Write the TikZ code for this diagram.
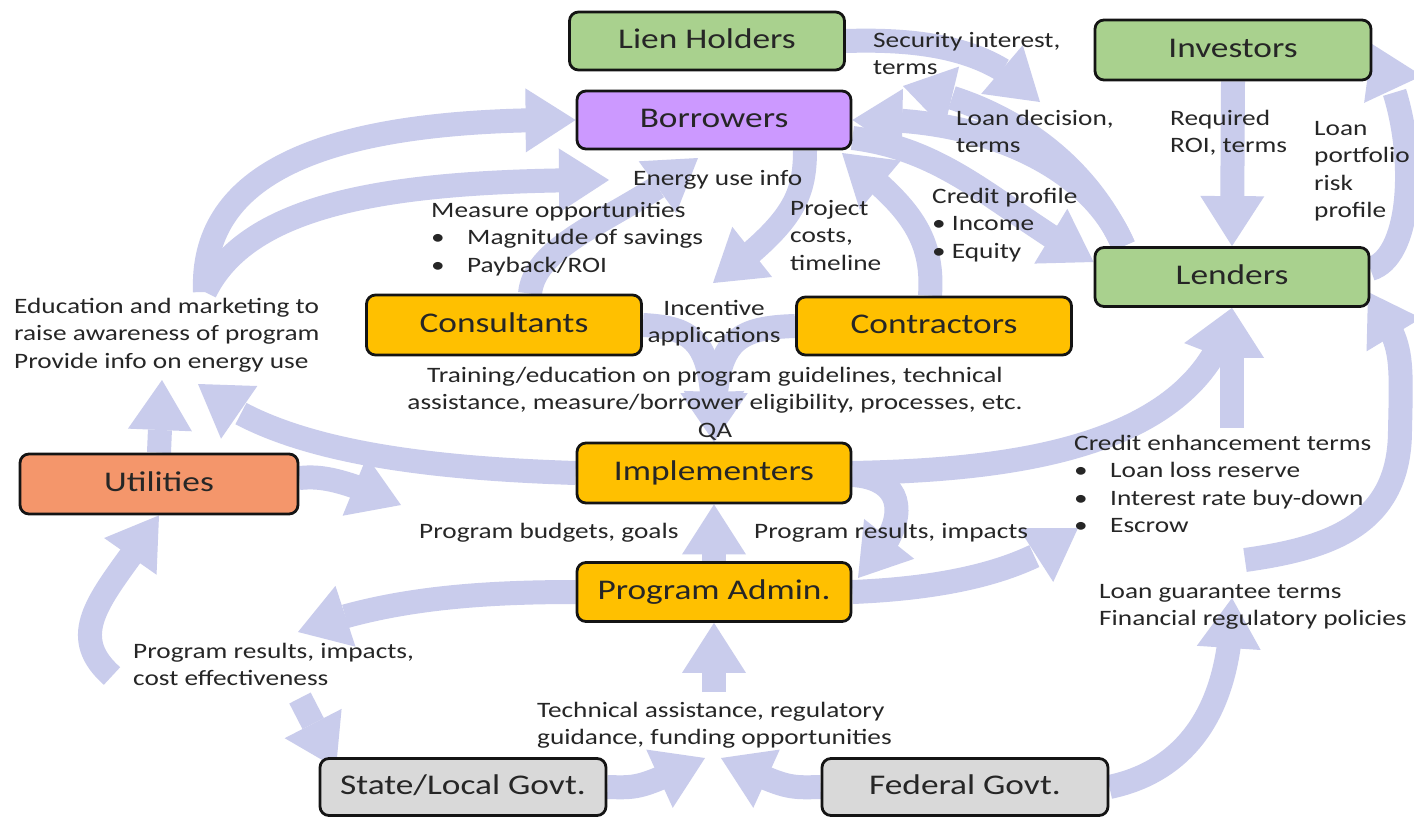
\documentclass[tikz,border=0pt]{standalone}
\usepackage{fontspec}
\setmainfont{Carlito}[FakeStretch=1.24]
\usetikzlibrary{arrows.meta,bending,calc}

\definecolor{lav}{RGB}{201,204,236}
\definecolor{leaf}{RGB}{169,209,142}
\definecolor{lilac}{RGB}{204,153,255}
\definecolor{amber}{RGB}{255,192,0}
\definecolor{coral}{RGB}{244,150,107}
\definecolor{silver}{RGB}{217,217,217}
\definecolor{ink}{RGB}{38,38,38}
\definecolor{rim}{RGB}{20,20,20}

\newcommand{\labfont}{\fontsize{22}{27.5}\selectfont}
\newcommand{\boxlabfont}{\fontsize{28.5}{34}\selectfont}
\newcommand{\topstrut}{\rule{0pt}{17pt}}
\newcommand{\bul}{\makebox[36pt][l]{\textbullet}}

\pgfdeclarelayer{flows}
\pgfsetlayers{flows,main}

\begin{document}
\begin{tikzpicture}[x=1pt,y=-1pt,
  box/.style={draw=rim, line width=2.8pt, rounded corners=9pt, inner sep=0pt,
              text=ink, font=\boxlabfont, text height=20pt, text depth=6pt},
  flow/.style={draw=lav, line width=24pt,
               -{Triangle[length=50pt,width=64pt,line width=0pt]}},
  lbl/.style={font=\labfont, text=ink, inner sep=0pt, align=left, anchor=north west},
  clbl/.style={font=\labfont, text=ink, inner sep=0pt, align=center, anchor=north},
]
\useasboundingbox (0,0) rectangle (1414,817);

% ---------------- actors ----------------
\node[box, fill=leaf,   minimum width=275pt, minimum height=58pt] (lien)  at (707,41)  {Lien Holders};
\node[box, fill=lilac,  minimum width=274pt, minimum height=58pt] (borr)  at (714,120) {Borrowers};
\node[box, fill=leaf,   minimum width=276pt, minimum height=60pt] (inv)   at (1233,50) {Investors};
\node[box, fill=leaf,   minimum width=274pt, minimum height=59pt] (lend)  at (1232,277) {Lenders};
\node[box, fill=amber,  minimum width=275pt, minimum height=60pt] (cons)  at (504,325) {Consultants};
\node[box, fill=amber,  minimum width=275pt, minimum height=58pt] (contr) at (934,326) {Contractors};
\node[box, fill=coral,  minimum width=278pt, minimum height=60pt] (util)  at (159,484) {Utilities};
\node[box, fill=amber,  minimum width=274pt, minimum height=60pt] (impl)  at (714,473) {Implementers};
\node[box, fill=amber,  minimum width=274pt, minimum height=59pt] (padm)  at (714,592) {Program Admin.};
\node[box, fill=silver, minimum width=286pt, minimum height=57pt] (state) at (463,787) {State/Local Govt.};
\node[box, fill=silver, minimum width=286pt, minimum height=57pt] (fed)   at (965,787) {Federal Govt.};

% ---------------- flow labels ----------------
\node[lbl] (tSec) at (873,30) {\topstrut Security interest,\\terms};
\node[lbl] (tDecision) at (956,108) {\topstrut Loan decision,\\terms};
\node[lbl] (tRoi) at (1170,108) {\topstrut Required\\ROI, terms};
\node[lbl] (tRisk) at (1314,118) {\topstrut Loan\\portfolio\\risk\\profile};
\node[lbl] (tEnergy) at (633,168) {\topstrut Energy use info};
\node[lbl] (tMeasure) at (431,200) {\topstrut Measure opportunities\\\bul Magnitude of savings\\\bul Payback/ROI};
\node[lbl] (tProject) at (790,198) {\topstrut Project\\costs,\\timeline};
\node[lbl] (tCredit) at (932,186) {\topstrut Credit profile\\\textbullet{} Income\\\textbullet{} Equity};
\node[lbl] (tEdu) at (14,296) {\topstrut Education and marketing to\\raise awareness of program\\Provide info on energy use};
\node[clbl] (tIncent) at (714,298) {\topstrut Incentive\\applications};
\node[clbl] (tTrain) at (715,365) {\topstrut Training/education on program guidelines, technical\\assistance, measure/borrower eligibility, processes, etc.\\QA};
\node[lbl] (tEnh) at (1074,433) {\topstrut Credit enhancement terms\\\bul Loan loss reserve\\\bul Interest rate buy-down\\\bul Escrow};
\node[lbl] (tBudget) at (419,521) {\topstrut Program budgets, goals};
\node[lbl] (tResR) at (754,521) {\topstrut Program results, impacts};
\node[lbl] (tGuar) at (1099,581) {\topstrut Loan guarantee terms\\Financial regulatory policies};
\node[lbl] (tResL) at (133,641) {\topstrut Program results, impacts,\\cost effectiveness};
\node[lbl] (tTech) at (537,700) {\topstrut Technical assistance, regulatory\\guidance, funding opportunities};

% ---------------- flows (behind everything) ----------------
\begin{pgfonlayer}{flows}
\fill[white] (0,0) rectangle (1414,817);

\coordinate (outreach) at (205,292);
\coordinate (energyIn) at (609,180);
\coordinate (eduUp)    at (162,380);
\coordinate (eduIn)    at (198,384);
\coordinate (budgetIn) at (401,505);
\coordinate (loopFoot) at (112,676);
\coordinate (resLIn)   at (298,632);
\coordinate (resDown)  at (300,698);
\coordinate (stateIn)  at (336,768);
\coordinate (fundL)    at (705,758);
\coordinate (fundR)    at (721,758);
\coordinate (fundC)    at (714,692);
\coordinate (padmIn)   at (858,578);
\coordinate (enhIn)    at (1078,528);
\coordinate (enhUp)    at (1232,428);
\coordinate (invIn)    at (1372,44);
\coordinate (guarTop)  at (1245,560);
\coordinate (lendIn)   at (1368,292);
\coordinate (guarIn)   at (1232,598);
\coordinate (secIn)    at (1040,102);
\coordinate (lienIn)   at (903,86);
\coordinate (borrIn1)  at (698,158);
\coordinate (consIn)   at (713,283);
\coordinate (borrIn2)  at (842,153);
\coordinate (qa)       at (714,442);

% outreach to borrowers
\draw[flow] (outreach) .. controls (200,170) and (330,118) .. (borr.west);
\draw[flow] (outreach) .. controls (250,200) and (400,180) .. (energyIn);

% utilities
\draw[flow] (util.north) -- (eduUp);
\draw[flow] (impl.west) .. controls (420,468) and (270,450) .. (eduIn);
\draw[flow] ($(util.east)+(0,-6)$) .. controls (320,476) and (340,478) .. (budgetIn);
\draw[flow] (loopFoot) .. controls (60,630) and (110,590) .. (util.south);

% program admin and government
\draw[flow] (padm.west) .. controls (470,592) and (380,600) .. (resLIn);
\draw[flow] (resDown) -- (stateIn);
\draw[flow] (state.east) .. controls (640,788) .. (fundL);
\draw[flow] (fed.west) .. controls (786,788) .. (fundR);
\draw[flow] (fundC) -- (padm.south);
\draw[flow] (padm.north) -- (impl.south);
\draw[flow] ($(impl.east)+(0,2)$) .. controls (905,478) and (915,520) .. (padmIn);
\draw[flow] (padm.east) .. controls (950,588) and (1030,570) .. (enhIn);

% credit enhancement and lenders
\draw[flow] (impl.east) .. controls (1000,470) and (1200,452) .. (lend.south);
\draw[flow] (enhUp) -- (lend.south);
\draw[flow] (inv.south) -- (lend.north);
\draw[flow] ($(lend.east)+(0,-8)$) .. controls (1420,255) and (1418,110) .. (invIn);
\draw[flow] (guarTop) .. controls (1330,548) and (1400,525) .. (1400,430)
            .. controls (1402,345) .. (lendIn);
\draw[flow] (fed.east) .. controls (1190,770) and (1232,705) .. (guarIn);

% lien holders, borrowers, lenders
\draw[flow] (lien.east) .. controls (940,38) and (1000,55) .. (secIn);
\draw[flow] ($(lend.north west)+(30,0)$) .. controls (1090,165) and (980,115) .. (borr.east);
\draw[flow] ($(lend.north west)+(30,0)$) .. controls (1080,150) and (990,100) .. (lienIn);
\draw[flow] ($(borr.east)+(0,18)$) .. controls (950,150) and (1000,210) .. ($(lend.west)+(0,-15)$);

% consultants, contractors, borrowers
\draw[flow] ($(cons.north)+(26,0)$) .. controls (535,240) and (630,215) .. (borrIn1);
\draw[flow] ($(borr.south)+(91,0)$) .. controls (805,200) and (790,225) .. (consIn);
\draw[flow] ($(contr.north)+(-4,0)$) .. controls (935,230) and (900,200) .. (borrIn2);
\draw[flow] (cons.east) .. controls (700,328) and (714,345) .. (qa);
\draw[flow] (contr.west) .. controls (728,328) and (714,345) .. (qa);
\end{pgfonlayer}
\end{tikzpicture}
\end{document}
